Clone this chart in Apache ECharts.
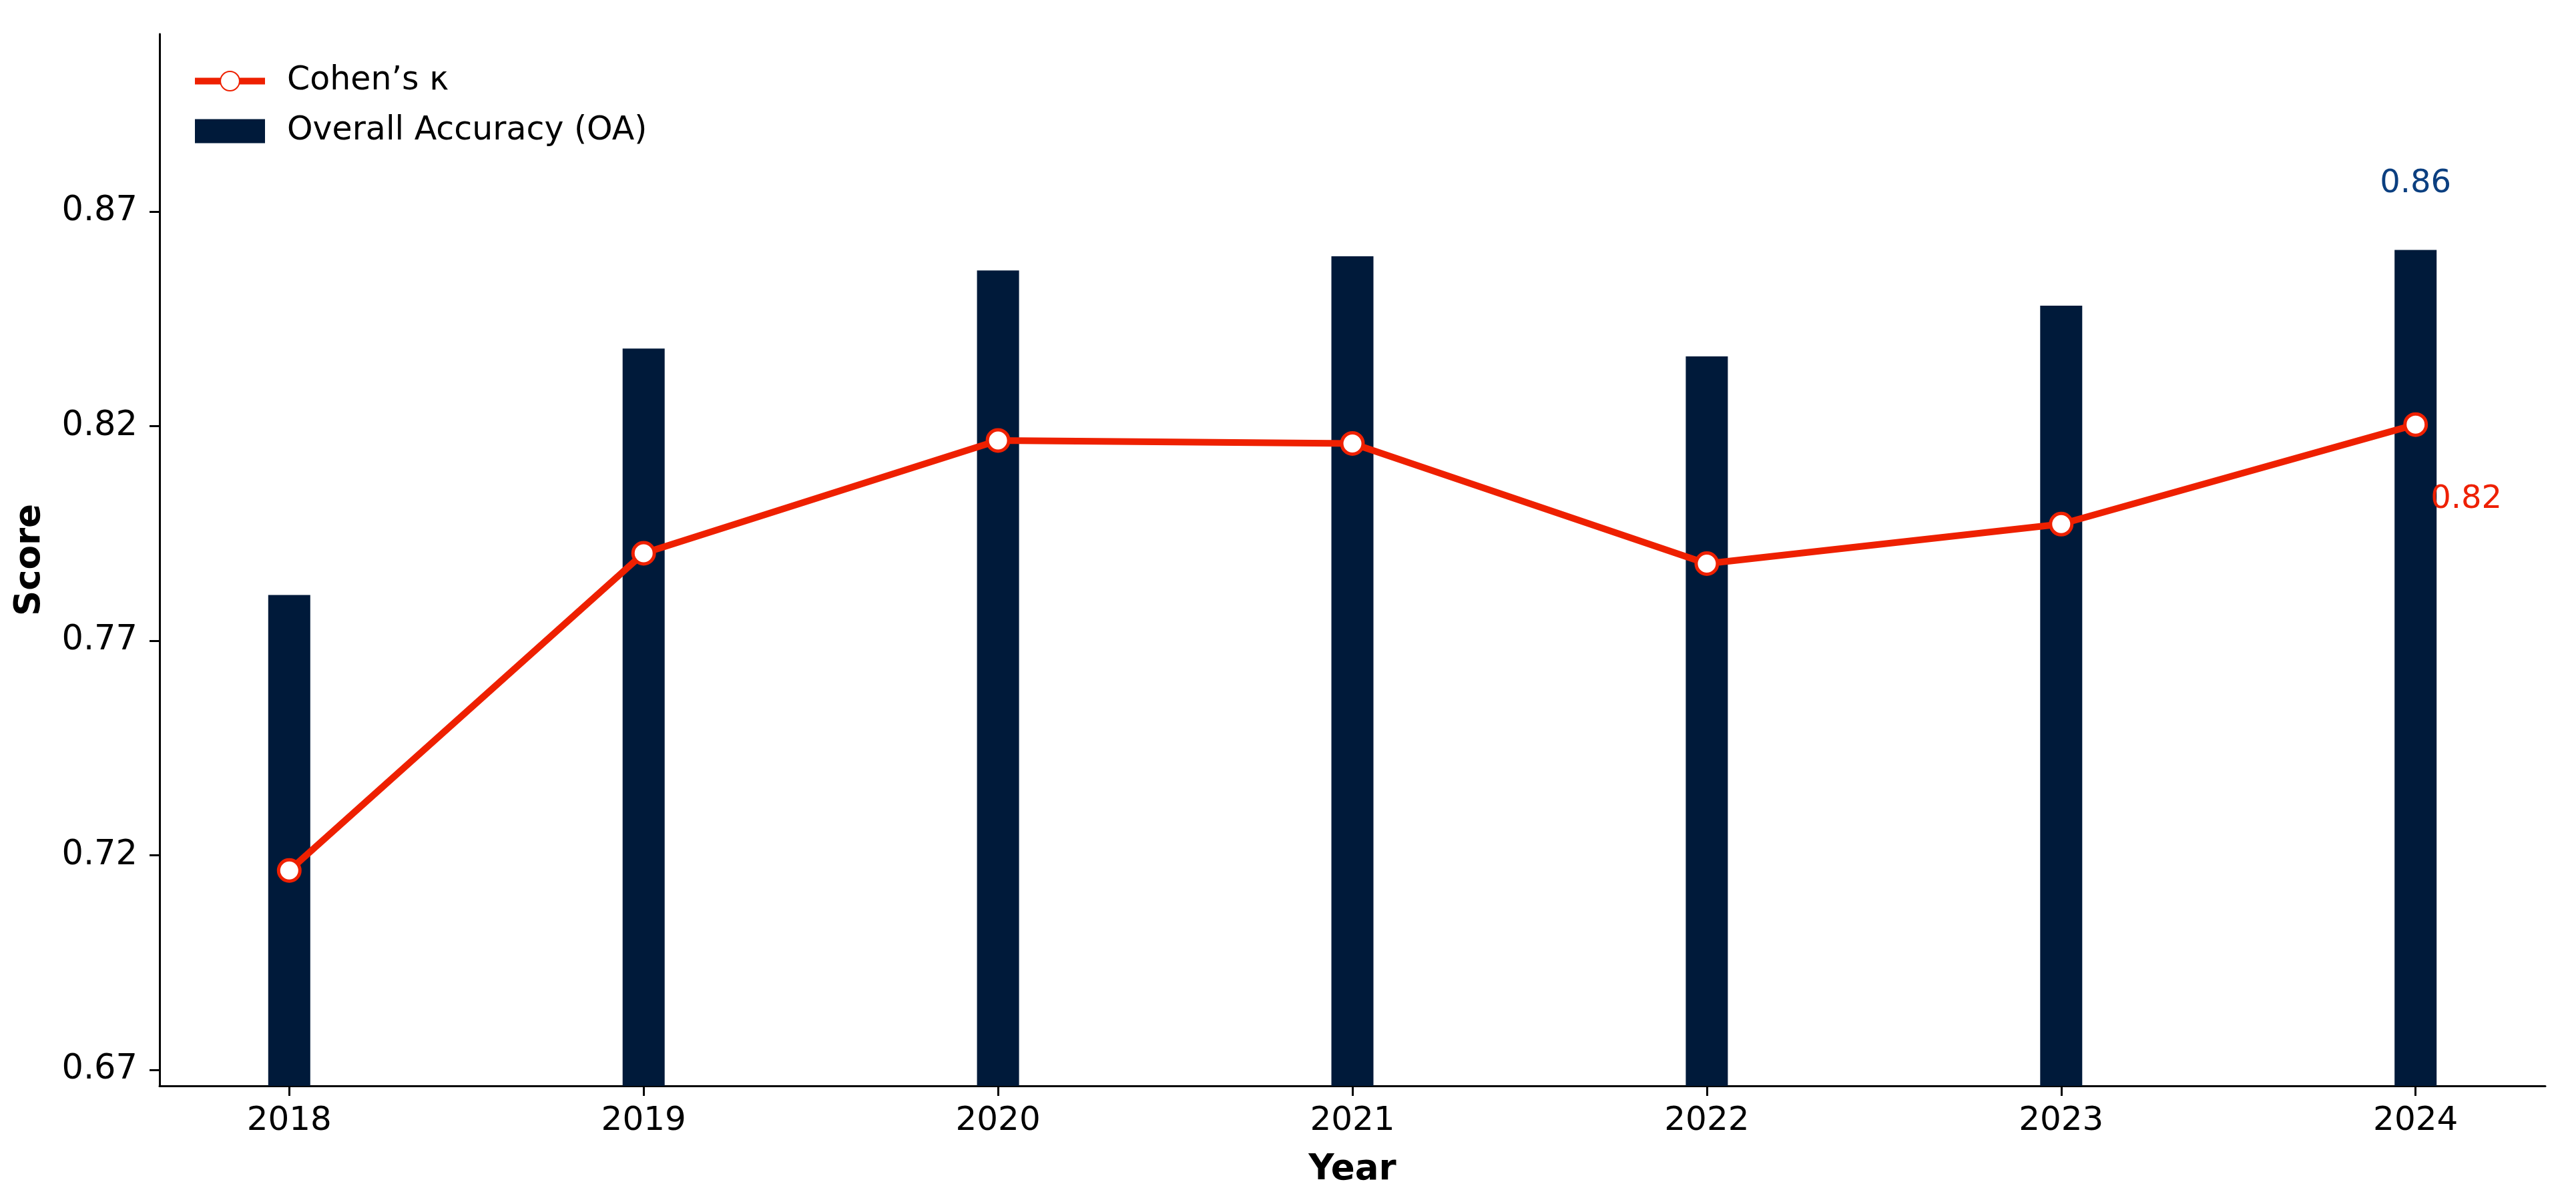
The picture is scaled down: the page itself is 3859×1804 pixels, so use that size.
<!DOCTYPE html>
<html>
<head>
<meta charset="utf-8">
<script src="https://cdn.jsdelivr.net/npm/echarts@6/dist/echarts.min.js"></script>
<style>
  html, body { margin: 0; padding: 0; background: #fff; }
  #chart { width: 3859px; height: 1804px; }
</style>
</head>
<body>
<div id="chart"></div>
<script>
// values
const years = ['2018', '2019', '2020', '2021', '2022', '2023', '2024']
const oaValues = [0.7807, 0.8381, 0.8563, 0.8596, 0.8363, 0.8481, 0.8611]
const kappaValues = [0.7165, 0.7904, 0.8167, 0.8160, 0.7880, 0.7972, 0.8204]
const yTicks = [0.67, 0.72, 0.77, 0.82, 0.87]
const xTicks = [0, 1, 2, 3, 4, 5, 6]

const FONT = 'DejaVu Sans'
const RED = '#EE2000'
const NAVY = '#001A3A'
const last = years.length - 1

const chart = echarts.init(document.getElementById('chart'), null, { renderer: 'canvas' })

chart.setOption({
  animation: false,
  backgroundColor: '#fff',
  textStyle: { fontFamily: FONT },
  grid: { left: 239, right: 46, top: 51, bottom: 177 },
  legend: {
    left: 282,
    top: 92,
    orient: 'vertical',
    itemWidth: 105,
    itemHeight: 36,
    itemGap: 26,
    lineStyle: { width: 10 },
    textStyle: { fontFamily: FONT, fontSize: 49, color: '#000', padding: [0, 0, 0, 28] },
    data: [
      { name: 'Cohen’s κ' },
      { name: 'Overall Accuracy (OA)', icon: 'rect' }
    ]
  },
  xAxis: {
    type: 'value',
    min: -0.366,
    max: 6.366,
    name: 'Year',
    nameLocation: 'middle',
    nameGap: 100,
    nameTextStyle: { fontFamily: FONT, fontSize: 53, fontWeight: 'bold', color: '#000', verticalAlign: 'top' },
    axisLine: { onZero: false, lineStyle: { color: '#000', width: 3 } },
    axisTick: { show: true, length: 15, lineStyle: { color: '#000', width: 3 }, customValues: xTicks },
    axisLabel: {
      customValues: xTicks,
      formatter: v => years[Math.round(v)],
      fontFamily: FONT,
      fontSize: 50,
      color: '#000',
      margin: 28
    },
    splitLine: { show: false }
  },
  yAxis: {
    type: 'value',
    min: 0.6663,
    max: 0.9114,
    name: 'Score',
    nameLocation: 'middle',
    nameRotate: 90,
    nameGap: 167,
    nameTextStyle: { fontFamily: FONT, fontSize: 53, fontWeight: 'bold', color: '#000' },
    axisLine: { show: true, onZero: false, lineStyle: { color: '#000', width: 3 } },
    axisTick: { show: true, length: 15, lineStyle: { color: '#000', width: 3 }, customValues: yTicks },
    axisLabel: {
      customValues: yTicks,
      formatter: v => v.toFixed(2),
      fontFamily: FONT,
      fontSize: 51,
      color: '#000',
      margin: 33
    },
    splitLine: { show: false }
  },
  series: [
    {
      name: 'Overall Accuracy (OA)',
      type: 'bar',
      barWidth: 63,
      z: 1,
      itemStyle: { color: NAVY },
      data: oaValues.map((v, i) => ({
        value: [i, v],
        label: i === last ? {
          show: true,
          position: 'top',
          distance: 75,
          formatter: p => p.value[1].toFixed(2),
          fontFamily: FONT,
          fontSize: 48,
          color: '#0B3F80'
        } : { show: false }
      }))
    },
    {
      name: 'Cohen’s κ',
      type: 'line',
      z: 3,
      symbol: 'circle',
      symbolSize: 32,
      lineStyle: { color: RED, width: 10 },
      itemStyle: { color: '#fff', borderColor: RED, borderWidth: 5 },
      data: kappaValues.map((v, i) => ({
        value: [i, v],
        label: i === last ? {
          show: true,
          position: 'inside',
          offset: [76, 112],
          formatter: p => p.value[1].toFixed(2),
          fontFamily: FONT,
          fontSize: 48,
          color: RED
        } : { show: false }
      }))
    }
  ]
})
</script>
</body>
</html>
